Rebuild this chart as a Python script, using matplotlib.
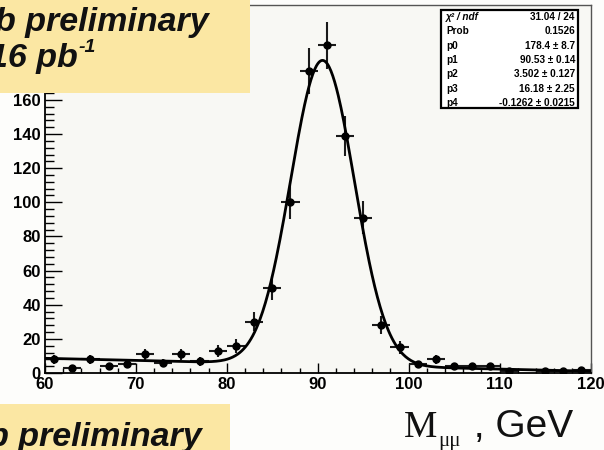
"""Z -> mu mu mass peak with gaussian + linear background fit (ROOT-style look)."""
import numpy as np
import matplotlib.pyplot as plt
from matplotlib.patches import Rectangle
from matplotlib.ticker import MultipleLocator

BIN_CENTER = [61, 63, 65, 67, 69, 71, 73, 75, 77, 79, 81, 83, 85, 87, 89, 91, 93,
              95, 97, 99, 101, 103, 105, 107, 109, 111, 115, 117, 119]
COUNTS = [8, 3, 8, 4, 5, 11, 6, 11, 7, 13, 16, 30, 50, 100, 177, 192, 139,
          91, 28, 15, 5, 8, 4, 4, 4, 1, 1, 1, 2]
BIN_HALF = 1.0

# fit result shown in the stats box: gaus(p0,p1,p2) + p3 + p4*x
FIT_NAMES = ["p0", "p1", "p2", "p3", "p4"]
FIT_VALUES = [178.4, 90.53, 3.502, 16.18, -0.1262]
FIT_TEXT = ["178.4 \u00b1 8.7", "90.53 \u00b1 0.14", "3.502 \u00b1 0.127",
            "16.18 \u00b1 2.25", "-0.1262 \u00b1 0.0215"]
CHI2_TEXT, PROB_TEXT = "31.04 / 24", "0.1526"

W, H = 604, 450
YELLOW = "#fbe7a3"
INK = "#111111"
plt.rcParams.update({"font.family": ["Liberation Sans", "DejaVu Sans"]})

fig = plt.figure(figsize=(W / 100, H / 100), dpi=100, facecolor="#fdfdfb")
renderer = fig.canvas.get_renderer()


def fx(px):
    return px / W


def fy(py):
    return 1 - py / H


def right_px(t):
    return t.get_window_extent(renderer=renderer).x1


ax = fig.add_axes([fx(45), fy(373), (590.5 - 45) / W, (373 - 4.5) / H])
ax.set_facecolor("#f8f8f4")

x = np.array(BIN_CENTER, dtype=float)
n = np.array(COUNTS, dtype=float)
ax.errorbar(x, n, yerr=np.sqrt(n), xerr=BIN_HALF, fmt="o", color="black",
            ecolor="#1a1a1a", ms=5, elinewidth=1.5, capsize=0, zorder=3)

p0, p1, p2, p3, p4 = FIT_VALUES
xf = np.linspace(60, 120, 600)
ax.plot(xf, p0 * np.exp(-0.5 * ((xf - p1) / p2) ** 2) + p3 + p4 * xf,
        color="black", lw=2.0, zorder=4)

ax.set_xlim(60, 120)
ax.set_ylim(0, 215.9)
ax.xaxis.set_major_locator(MultipleLocator(10))
ax.xaxis.set_minor_locator(MultipleLocator(2))
ax.yaxis.set_major_locator(MultipleLocator(20))
ax.yaxis.set_minor_locator(MultipleLocator(4))
ax.tick_params(axis="x", which="major", direction="in", length=7.5, width=1,
               labelsize=12, pad=3)
ax.tick_params(axis="x", which="minor", direction="in", length=3.8, width=1)
ax.tick_params(axis="y", which="major", direction="in", length=12, width=1,
               labelsize=12, pad=3)
ax.tick_params(axis="y", which="minor", direction="in", length=6.5, width=1)
for lab in ax.get_xticklabels() + ax.get_yticklabels():
    lab.set_fontweight("bold")
for side in ["left", "bottom"]:
    ax.spines[side].set_linewidth(1.3)
for side in ["top", "right"]:
    ax.spines[side].set_color("#555555")
    ax.spines[side].set_linewidth(1.0)

# stats box
bx0, bx1, by0, by1 = 441, 578, 10, 108
fig.patches.append(Rectangle((fx(bx0), fy(by1)), (bx1 - bx0) / W, (by1 - by0) / H,
                             transform=fig.transFigure, facecolor="white",
                             edgecolor="black", lw=1.6, zorder=5))
rows = [("\u03c7\u00b2 / ndf", CHI2_TEXT), ("Prob", PROB_TEXT)] + list(zip(FIT_NAMES, FIT_TEXT))
for i, (name, val) in enumerate(rows):
    yy = fy(17 + i * 14.3)
    fig.text(fx(446), yy, name, fontsize=7.2, fontweight="bold", va="center",
             ha="left", zorder=6, style="italic" if i == 0 else "normal")
    fig.text(fx(575), yy, val, fontsize=7.2, fontweight="bold", va="center",
             ha="right", zorder=6)

# yellow labels (cropped by the picture edge)
big = dict(fontsize=24.5, fontweight="bold", style="italic", color=INK, zorder=8,
           ha="left", va="baseline")
fig.patches.append(Rectangle((0, fy(93)), fx(250), 93 / H, transform=fig.transFigure,
                             facecolor=YELLOW, edgecolor="none", zorder=7))
fig.text(fx(-5), fy(31), "b preliminary", **big)
t16 = fig.text(fx(-11), fy(67), "16 pb", **big)
fig.text(fx(right_px(t16) + 1), fy(52), "-1", **{**big, "fontsize": 14})

fig.patches.append(Rectangle((0, 0), fx(230), (H - 404) / H, transform=fig.transFigure,
                             facecolor=YELLOW, edgecolor="none", zorder=7))
fig.text(fx(-12), fy(446), "b preliminary", **big)

# axis title M_mumu , GeV
tm = fig.text(fx(404), fy(437), "M", fontsize=27, family="Liberation Serif",
              ha="left", va="baseline", color=INK)
tmu = fig.text(fx(right_px(tm) + 1), fy(446), "\u03bc\u03bc", fontsize=15,
               family="Liberation Serif", ha="left", va="baseline", color=INK)
fig.text(fx(right_px(tmu) + 2), fy(437), " , GeV", fontsize=28,
         ha="left", va="baseline", color=INK)

fig.savefig("out.png", dpi=100, facecolor=fig.get_facecolor())
